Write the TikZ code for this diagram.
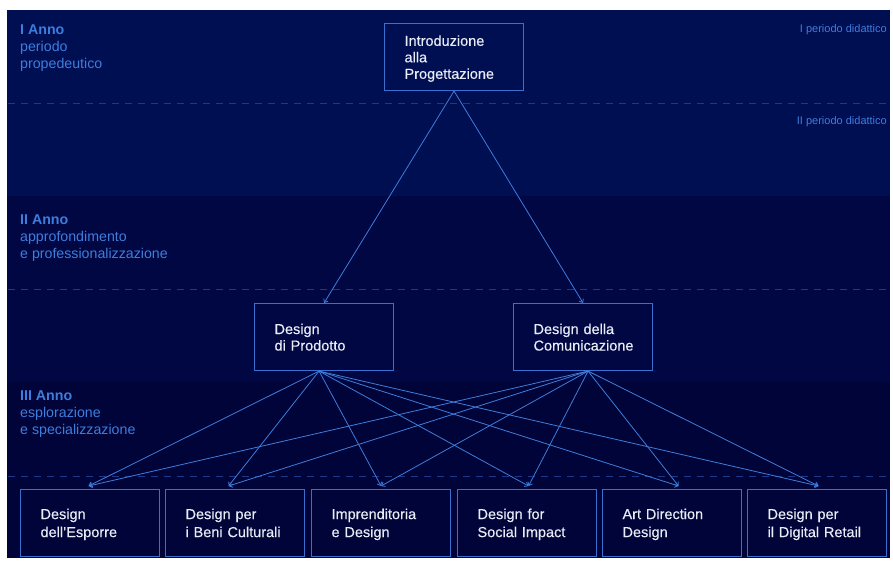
\documentclass[tikz,border=0pt]{standalone}
\usepackage{fontspec}
\setmainfont{Liberation Sans}
\newfontfamily\boxfont[FakeBold=0.35]{Liberation Sans}
\usetikzlibrary{arrows.meta}
\definecolor{bgA}{HTML}{000E52}
\definecolor{bgB}{HTML}{000742}
\definecolor{bgC}{HTML}{000438}
\definecolor{lblue}{HTML}{3F7DDD}
\definecolor{edgec}{HTML}{3A6FD0}
\definecolor{dashc}{HTML}{1C3A8C}
\definecolor{btext}{HTML}{E8ECF6}
\begin{document}
\begin{tikzpicture}[x=1pt,y=-1pt,
  box/.style={draw=edgec, line width=1.1pt, text=btext, font=\boxfont\fontsize{14.5}{16.5}\selectfont,
    align=left, text width=99pt, inner xsep=20pt, inner ysep=0pt, minimum height=67pt, anchor=north west,
    execute at begin node={\rule{0pt}{15.5pt}}, execute at end node={\strut}},
  bbox/.style={box, font=\boxfont\fontsize{14.5}{18}\selectfont},
  lab/.style={text=lblue, font=\fontsize{14.2}{17}\selectfont, align=left, anchor=north west, inner sep=0pt},
  perlab/.style={text=lblue, font=\fontsize{11}{13}\selectfont, anchor=east, inner sep=0pt},
  dashline/.style={draw=dashc, line width=0.8pt, dash pattern=on 6.5pt off 6.5pt},
  conn/.style={draw=lblue, line width=0.8pt, -{Straight Barb[length=3pt,width=5pt]}}]
\useasboundingbox (0,0) rectangle (893,561);
\fill[white] (0,0) rectangle (893,561);
% bands
\fill[bgA] (7,10) rectangle (890,196);
\fill[bgB] (7,196) rectangle (890,382);
\fill[bgC] (7,382) rectangle (890,558);
% dashed separators
\draw[dashline] (8,103) -- (890,103);
\draw[dashline] (8,289) -- (890,289);
\draw[dashline] (8,476) -- (890,476);
% labels
\node[lab] (l1) at (20,25) {\bfseries I Anno\\periodo\\propedeutico};
\node[lab] (l2) at (20,215) {\bfseries II Anno\\approfondimento\\e professionalizzazione};
\node[lab] (l3) at (20,391) {\bfseries III Anno\\esplorazione\\e specializzazione};
\node[perlab] (pd1) at (887,30) {I periodo didattico};
\node[perlab] (pd2) at (887,122) {II periodo didattico};
% boxes
\node[box] (intro) at (384,23) {Introduzione\\alla\\Progettazione};
\node[box] (p) at (254,303) {Design\\di Prodotto};
\node[box] (c) at (513,303) {Design della\\Comunicazione};
\node[bbox] (b1) at (20,489) {Design\\dell’Esporre};
\node[bbox] (b2) at (165,489) {Design per\\i Beni Culturali};
\node[bbox] (b3) at (311,489) {Imprenditoria\\e Design};
\node[bbox] (b4) at (457,489) {Design for\\Social Impact};
\node[bbox] (b5) at (602,489) {Art Direction\\Design};
\node[bbox] (b6) at (747,489) {Design per\\il Digital Retail};
% connector ends
\coordinate (sp) at ([xshift=-5pt]p.south);
\coordinate (sc) at ([xshift=5pt]c.south);
\coordinate (t1) at ([xshift=-1.5pt,yshift=3pt]b1.north);
\coordinate (t2) at ([xshift=-6.5pt,yshift=3pt]b2.north);
\coordinate (t3) at ([xshift=0pt,yshift=3pt]b3.north);
\coordinate (t4) at ([xshift=1.5pt,yshift=3pt]b4.north);
\coordinate (t5) at ([xshift=6.5pt,yshift=3pt]b5.north);
\coordinate (t6) at ([xshift=1.5pt,yshift=3pt]b6.north);
% connectors
\draw[conn] (intro.south) -- (p.north);
\draw[conn] (intro.south) -- (c.north);
\foreach \t in {t1,t2,t3,t4,t5,t6}{
  \draw[conn] (sp) -- (\t);
  \draw[conn] (sc) -- (\t);
}
\end{tikzpicture}
\end{document}
